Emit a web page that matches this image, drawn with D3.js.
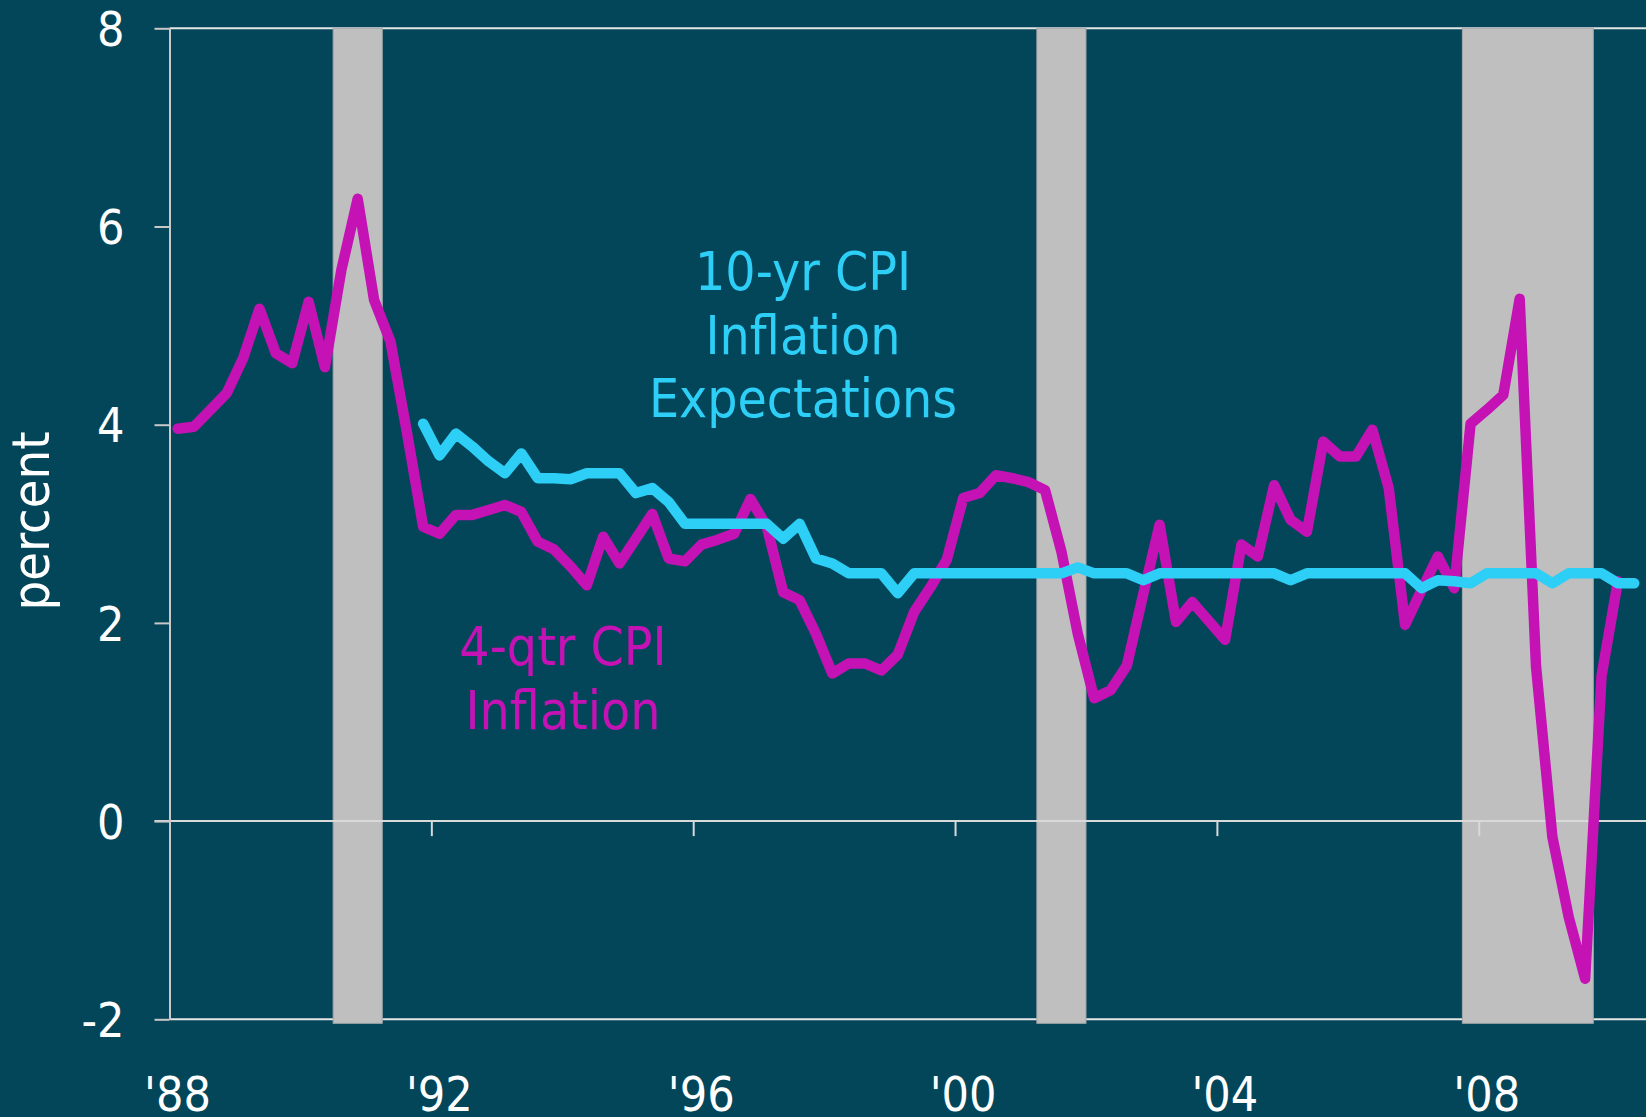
<!DOCTYPE html>
<html>
<head>
<meta charset="utf-8">
<script src="https://cdn.jsdelivr.net/npm/d3@7"></script>
<style>
  html, body { margin: 0; padding: 0; background: #03465a; }
  svg { display: block; }
  text { font-family: 'DejaVu Sans Condensed', 'DejaVu Sans', sans-serif; }
</style>
</head>
<body>
<div id="chart"></div>
<script>
'use strict'

// 4-quarter CPI inflation, quarterly from 1988 Q1
const cpiStart = 1988
const cpiInflation = [
  3.96, 3.98, 4.15, 4.32,
  4.67, 5.17, 4.72, 4.62,
  5.24, 4.58, 5.56, 6.28,
  5.26, 4.84, 3.93, 2.97,
  2.90, 3.09, 3.09, 3.14,
  3.19, 3.12, 2.82, 2.74,
  2.57, 2.38, 2.87, 2.60,
  2.85, 3.10, 2.65, 2.62,
  2.79, 2.84, 2.90, 3.25,
  2.97, 2.31, 2.23, 1.89,
  1.49, 1.59, 1.59, 1.52,
  1.68, 2.11, 2.36, 2.64,
  3.26, 3.31, 3.49, 3.46,
  3.42, 3.34, 2.72, 1.89,
  1.24, 1.32, 1.57, 2.29,
  2.99, 2.01, 2.21, 2.02,
  1.83, 2.79, 2.67, 3.39,
  3.04, 2.92, 3.83, 3.68,
  3.68, 3.95, 3.36, 1.98,
  2.33, 2.67, 2.35, 4.01,
  4.15, 4.30, 5.27, 1.56,
  -0.16, -0.97, -1.59, 1.46,
  2.42
]

// 10-year CPI inflation expectations, quarterly from 1991 Q4
const expStart = 1991.75
const cpiExpectations = [
  4.01,
  3.69, 3.91, 3.78, 3.63,
  3.51, 3.71, 3.46, 3.46,
  3.45, 3.51, 3.51, 3.51,
  3.31, 3.36, 3.22, 3.00,
  3.00, 3.00, 3.00, 3.00,
  3.00, 2.85, 3.00, 2.65,
  2.60, 2.50, 2.50, 2.50,
  2.30, 2.50, 2.50, 2.50,
  2.50, 2.50, 2.50, 2.50,
  2.50, 2.50, 2.50, 2.56,
  2.50, 2.50, 2.50, 2.43,
  2.50, 2.50, 2.50, 2.50,
  2.50, 2.50, 2.50, 2.50,
  2.43, 2.50, 2.50, 2.50,
  2.50, 2.50, 2.50, 2.50,
  2.35, 2.43, 2.42, 2.40,
  2.50, 2.50, 2.50, 2.50,
  2.40, 2.50, 2.50, 2.50,
  2.40, 2.40
]

// recession periods (start, end) in years
const recessions = [[1990.5, 1991.25], [2001.25, 2002.0], [2007.75, 2009.75]]

const yTicks = [-2, 0, 2, 4, 6, 8]
const xTicks = [1988, 1992, 1996, 2000, 2004, 2008]
const xTickLabels = ["'88", "'92", "'96", "'00", "'04", "'08"]

const width = 1646
const height = 1117

const svg = d3.select('#chart')
  .append('svg')
    .attr('width', width)
    .attr('height', height)

svg.append('rect')
  .attr('width', width)
  .attr('height', height)
  .attr('fill', '#03465a')

// one year is ~65.5px, '88 sits on the y axis
const x = d3.scaleLinear()
  .domain([1988, 2010.555])
  .range([169.5, 1646])

const y = d3.scaleLinear()
  .domain([-2, 8])
  .range([1019.3, 28.3])

// points sit in the middle of each quarter
const toPoints = (vals, start) => vals.map((v, i) => ({ t: start + i / 4 + 0.125, v }))
const inflationData = toPoints(cpiInflation, cpiStart)
const expectData = toPoints(cpiExpectations, expStart)

// top and bottom frame lines (under the recession bars)
svg.append('g')
  .selectAll('line')
  .data([8, -2])
  .join('line')
    .attr('x1', x(1988))
    .attr('x2', width)
    .attr('y1', d => y(d))
    .attr('y2', d => y(d))
    .attr('stroke', '#e6e6e6')
    .attr('stroke-width', 2)

// recession shading
svg.append('g')
  .selectAll('rect')
  .data(recessions)
  .join('rect')
    .attr('x', d => x(d[0]))
    .attr('width', d => x(d[1]) - x(d[0]))
    .attr('y', y(8))
    .attr('height', y(-2) - y(8) + 4)
    .attr('fill', '#bfbfbf')
    .attr('stroke', '#a3a8ab')
    .attr('stroke-width', 1)

// x axis along zero, ticks pointing down
const xAxis = svg.append('g')
  .attr('transform', `translate(0, ${y(0)})`)
  .call(d3.axisBottom(x)
    .tickValues(xTicks.slice(1))
    .tickSize(15)
    .tickFormat(''))
xAxis.select('.domain')
  .attr('d', `M${x(1988) - 15},0H${width}`)
  .attr('stroke', '#d9d9d9')
  .attr('stroke-width', 2)
xAxis.selectAll('.tick line')
  .attr('stroke', '#d9d9d9')
  .attr('stroke-width', 2)

svg.append('g')
  .selectAll('text')
  .data(xTicks)
  .join('text')
    .attr('x', d => x(d) + 8)
    .attr('y', 1111)
    .attr('text-anchor', 'middle')
    .attr('fill', '#ffffff')
    .attr('font-size', 48)
    .text((d, i) => xTickLabels[i])

// y axis
const yAxis = svg.append('g')
  .attr('transform', `translate(${x(1988)}, 0)`)
  .call(d3.axisLeft(y)
    .tickValues(yTicks)
    .tickSize(15)
    .tickSizeOuter(0)
    .tickPadding(30)
    .tickFormat(d => String(d)))
yAxis.select('.domain')
  .attr('stroke', '#c8c8c8')
  .attr('stroke-width', 2)
yAxis.selectAll('.tick line')
  .attr('stroke', '#c8c8c8')
  .attr('stroke-width', 2)
yAxis.selectAll('.tick text')
  .attr('fill', '#ffffff')
  .attr('font-size', 48)
  .attr('font-family', "'DejaVu Sans Condensed', 'DejaVu Sans', sans-serif")
  .attr('dy', '0.36em')

svg.append('text')
  .attr('transform', 'translate(49, 521) rotate(-90)')
  .attr('text-anchor', 'middle')
  .attr('fill', '#ffffff')
  .attr('font-size', 52)
  .text('percent')

// series lines
const line = d3.line()
  .x(d => x(d.t))
  .y(d => y(d.v))

svg.append('path')
  .datum(inflationData)
  .attr('fill', 'none')
  .attr('stroke', '#c412b5')
  .attr('stroke-width', 10.5)
  .attr('stroke-linejoin', 'round')
  .attr('stroke-linecap', 'round')
  .attr('d', line)

svg.append('path')
  .datum(expectData)
  .attr('fill', 'none')
  .attr('stroke', '#2dcff7')
  .attr('stroke-width', 10.5)
  .attr('stroke-linejoin', 'round')
  .attr('stroke-linecap', 'round')
  .attr('d', line)

// labels on the chart
const addLabel = (lines, cx, baseline, color) => {
  svg.append('g')
    .selectAll('text')
    .data(lines)
    .join('text')
      .attr('x', cx)
      .attr('y', (d, i) => baseline + i * 63.5)
      .attr('text-anchor', 'middle')
      .attr('fill', color)
      .attr('font-size', 53)
      .text(d => d)
}

addLabel(['10-yr CPI', 'Inflation', 'Expectations'], 803, 290, '#2dcff7')
addLabel(['4-qtr CPI', 'Inflation'], 563, 665, '#c412b5')
</script>
</body>
</html>
